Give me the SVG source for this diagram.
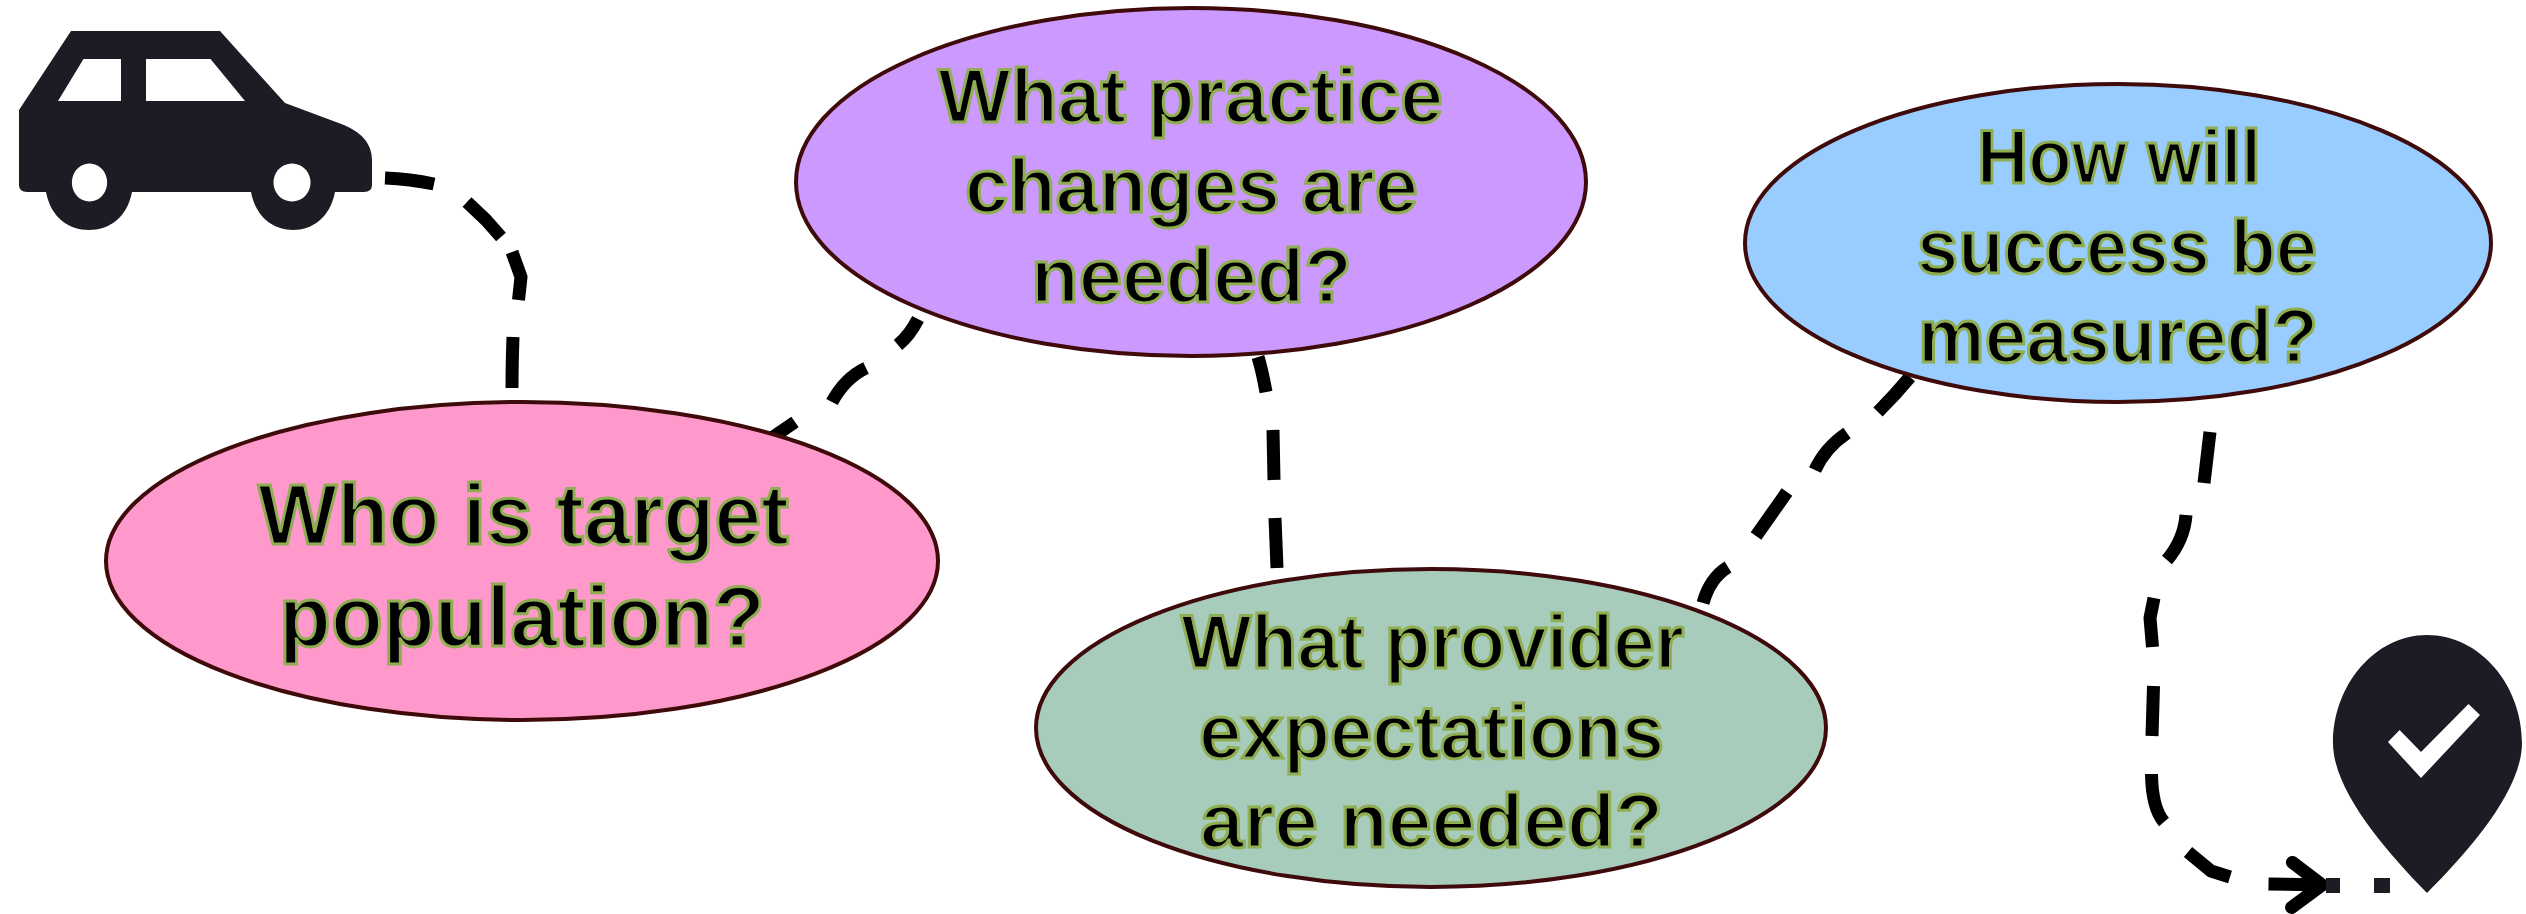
<svg xmlns="http://www.w3.org/2000/svg" width="2526" height="914" viewBox="0 0 2526 914">
<style>
.e{stroke:#3f0a0a;stroke-width:4}
.t{font-family:"Liberation Sans",Arial,sans-serif;font-weight:700;font-size:76px;fill:#000;stroke:#8fae52;stroke-width:3}
.big{font-size:86px}
.c{fill:none;stroke:#000;stroke-width:13;stroke-linejoin:round}
.i{fill:#1c1d24}
</style>
<defs>
<marker id="ah" markerUnits="userSpaceOnUse" markerWidth="50" markerHeight="70" refX="40" refY="30" orient="auto" overflow="visible">
<path d="M10 8L40 30L10 53" fill="none" stroke="#000" stroke-width="13" stroke-linecap="round" stroke-linejoin="round"/>
</marker>
</defs>
<g id="connectors">
<path class="c" d="M385 178Q410 179 434 184M467 202L486 220L501 237M512 252L521 277L518.500 300M513 337Q512 365 512 388"/>
<path class="c" d="M773 437L795 422M832 402Q845 378 866 368M898 345Q910 335 918 319"/>
<path class="c" d="M1258 357Q1262 370 1266 392M1273 430L1274 480M1275 518L1277 568"/>
<path class="c" d="M1703 603Q1710 578 1728 567M1756 536L1787 492M1815 470Q1825 448 1847 433M1878 412Q1895 395 1910 377"/>
<path class="c" d="M2210 432L2204 483M2186 515Q2184 540 2167 560M2154 598L2150 618L2152.500 647M2153.500 686L2152 736M2151.500 774Q2152 808 2164 822M2188 852L2211 871L2230 877"/>
<path class="c" marker-end="url(#ah)" d="M2268.500 884L2322 885"/>
</g>
<g id="node-start">
<path class="i" fill-rule="evenodd" d="M71 31H220L285 103L344 125Q372 137 372 160V185Q372 192 364 192H335C330 218 312 230 293 230C274 230 256 218 251 192H132C127 218 109 230 89 230C69 230 51 218 46 192H27Q19 192 19 185V110ZM83.500 59L58 101H121V59ZM146 59V101H245L210.500 59ZM89.500 163.500a17.600 19 0 1 0 0.010 0ZM292 163.500a18.500 19 0 1 0 0.010 0Z"/>
</g>
<g id="node-population">
<ellipse class="e" cx="522" cy="561" rx="416" ry="159" fill="#ff99cc"/>
<text class="t big" x="258" y="544" textLength="531" lengthAdjust="spacingAndGlyphs">Who is target</text>
<text class="t big" x="279" y="646" textLength="486" lengthAdjust="spacingAndGlyphs">population?</text>
</g>
<g id="node-practice">
<ellipse class="e" cx="1191" cy="182" rx="395" ry="174" fill="#cc99ff"/>
<text class="t" x="938" y="122" textLength="505" lengthAdjust="spacingAndGlyphs">What practice</text>
<text class="t" x="965" y="212" textLength="453" lengthAdjust="spacingAndGlyphs">changes are</text>
<text class="t" x="1031" y="302" textLength="321" lengthAdjust="spacingAndGlyphs">needed?</text>
</g>
<g id="node-provider">
<ellipse class="e" cx="1431" cy="728" rx="395" ry="159" fill="#a8ccbc"/>
<text class="t" x="1181" y="668" textLength="503" lengthAdjust="spacingAndGlyphs">What provider</text>
<text class="t" x="1199" y="758" textLength="465" lengthAdjust="spacingAndGlyphs">expectations</text>
<text class="t" x="1200" y="847" textLength="463" lengthAdjust="spacingAndGlyphs">are needed?</text>
</g>
<g id="node-success">
<ellipse class="e" cx="2118" cy="243" rx="373" ry="159" fill="#99ccff"/>
<text class="t" x="1977" y="183" textLength="284" lengthAdjust="spacingAndGlyphs">How will</text>
<text class="t" x="1917" y="273" textLength="400" lengthAdjust="spacingAndGlyphs">success be</text>
<text class="t" x="1918" y="362" textLength="400" lengthAdjust="spacingAndGlyphs">measured?</text>
</g>
<g id="node-end">
<path class="i" fill-rule="evenodd" d="M2427 635C2480 635 2522 685 2522 743C2522 790 2470 850 2427 893C2385 850 2333 790 2333 743C2333 685 2375 635 2427 635ZM2468.500 704L2421 752L2399.600 730L2388 742L2421 778L2480 715Z"/>
<rect class="i" x="2326" y="878" width="14" height="15"/>
<rect class="i" x="2374" y="878" width="16" height="15"/>
</g>
</svg>
